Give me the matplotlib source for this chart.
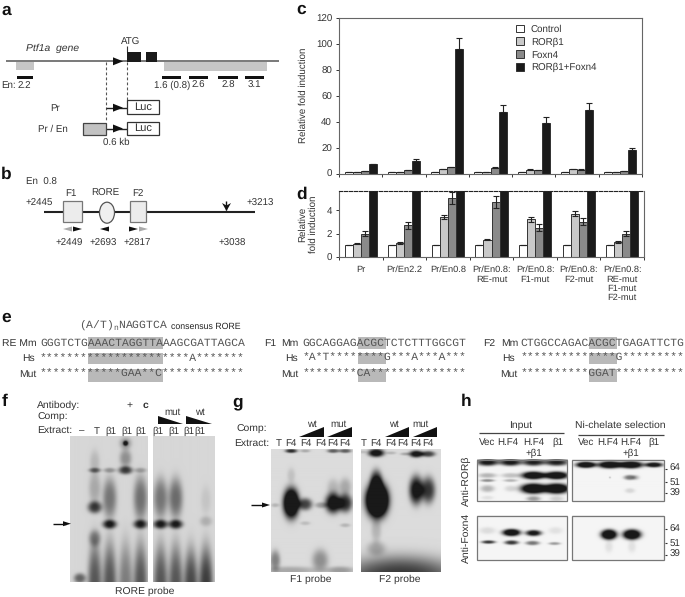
import numpy as np
import matplotlib
matplotlib.use('Agg')
import matplotlib.pyplot as plt
from matplotlib.patches import Rectangle, Ellipse, Polygon

plt.rcParams['font.family'] = ['Liberation Sans', 'DejaVu Sans']
plt.rcParams['mathtext.default'] = 'regular'
plt.rcParams['text.hinting'] = 'no_hinting'

# bar data, panels c and d
constructs = ['Pr', 'Pr/En2.2', 'Pr/En0.8', 'Pr/En0.8:\nRE-mut', 'Pr/En0.8:\nF1-mut',
              'Pr/En0.8:\nF2-mut', 'Pr/En0.8:\nRE-mut\nF1-mut\nF2-mut']
series_names = ['Control', 'RORβ1', 'Foxn4', 'RORβ1+Foxn4']
control = [1, 1, 1, 1, 1, 1, 1]
ror = [1.15, 1.2, 3.4, 1.5, 3.2, 3.7, 1.3]
foxn = [2.0, 2.7, 5.0, 4.7, 2.5, 3.0, 2.0]
both = [7.3, 10, 96, 48, 39.5, 49.5, 18]
control_err = [0, 0, 0, 0, 0, 0, 0]
ror_err = [0.05, 0.07, 0.2, 0.06, 0.2, 0.25, 0.06]
foxn_err = [0.22, 0.3, 0.5, 0.5, 0.3, 0.3, 0.22]
both_err = [0.4, 1.0, 9, 5, 4.5, 5, 2]
bar_colors = ['white', '#c9c9c9', '#8a8a8a', '#1a1a1a']

# sequence rows, panel e
re_rows = ['GGGTCTGAAACTAGGTTAAAGCGATTAGCA', '**********************A*******', '************GAA**C************']
f1_rows = ['GGCAGGAGACGCTCTCTTTGGCGT', '*A*T********G***A***A***', '********CA**************']
f2_rows = ['CTGGCCAGACACGCTGAGATTCTG', '**************G*********', '**********GGAT**********']

# gel and blot bands: x, y, width, height, darkness (in picture pixels)
gel_f1_bands = [(80, 578, 6, 5, 0.45), (95, 470, 6, 2.5, 0.4), (95, 507, 7, 6, 0.6), (95, 488, 6, 16, 0.18),
                (95, 538, 6, 8, 0.3), (95, 462, 5, 12, 0.12),
                (110, 470, 6, 2.5, 0.25), (110, 524, 7, 4.5, 0.7), (110, 498, 7, 20, 0.38),
                (126, 470, 7, 4, 0.6), (126, 458, 6, 9, 0.28), (126, 443, 2.5, 2.5, 0.7), (126, 443, 6, 6, 0.25),
                (141, 470, 6, 2.5, 0.2), (141, 524, 7, 4.5, 0.65), (141, 498, 7, 22, 0.4),
                (95, 585, 7, 42, 0.5), (110, 585, 7, 42, 0.5), (126, 585, 7, 42, 0.35), (141, 585, 7, 42, 0.5)]
gel_f2_bands = [(160, 524, 7, 4.5, 0.7), (160, 498, 7, 20, 0.38), (175, 524, 7, 4.5, 0.7), (175, 498, 7, 20, 0.42),
                (205, 521, 6, 5, 0.15), (205, 500, 5, 14, 0.07),
                (160, 585, 7, 40, 0.5), (175, 585, 7, 40, 0.5), (190, 585, 7, 36, 0.55), (205, 585, 7, 38, 0.6)]
gel_g1_bands = [(291, 451, 6, 2, 0.7), (305, 451, 5, 1.5, 0.2), (333, 451, 6, 2, 0.5), (345, 451, 6, 2, 0.5),
                (291, 503, 8, 15, 1.3), (291, 475, 4, 7, 0.1), (305, 504, 7, 6, 0.6), (321, 505, 6, 3, 0.25),
                (333, 503, 8, 10, 0.9), (345, 503, 7, 9, 0.7), (333, 488, 6, 9, 0.15),
                (345, 487, 6, 9, 0.2), (275, 505, 4, 2, 0.15),
                (305, 523, 5, 2, 0.12), (345, 525, 5, 2, 0.15), (275, 560, 5, 10, 0.35), (320, 560, 8, 11, 0.3),
                (290, 570, 28, 4, 0.2), (340, 570, 14, 4, 0.25)]
gel_g2_bands = [(376, 453, 8, 4, 0.9), (391, 453, 5, 1.5, 0.15), (405, 454, 5, 1.5, 0.2), (416, 454, 7, 3.5, 0.85),
                (428, 454, 7, 3, 0.6), (377, 500, 11, 17, 1.8), (376, 482, 6, 12, 0.7), (376, 530, 5, 12, 0.15),
                (416, 490, 7, 14, 0.85), (428, 490, 7, 13, 0.65), (362, 452, 4, 1.5, 0.12),
                (400, 578, 60, 22, 0.65), (376, 548, 9, 7, 0.2)]
blot_tl_bands = [(487, 463, 11, 3.5, 0.9), (510, 463, 11, 3.5, 0.9), (533, 463, 11, 3.5, 0.85), (556, 463, 12, 3.5, 0.85),
                 (487, 476, 9, 2.5, 0.25), (510, 476, 9, 2.5, 0.2), (487, 481, 7, 1.5, 0.4), (510, 481, 7, 1.5, 0.25),
                 (487, 489, 7, 3.5, 0.25), (510, 489, 6, 3, 0.12),
                 (533, 476, 12, 3.8, 1.2), (556, 476, 12, 3.8, 1.2), (533, 489, 13, 5, 1.3), (556, 489, 13, 5, 1.3),
                 (533, 499, 7, 2.5, 0.35), (556, 499, 7, 2.5, 0.15), (487, 498, 6, 2, 0.08)]
blot_tr_bands = [(586, 465.5, 10, 3, 1.2), (610, 465.5, 12, 3.5, 1.2), (631, 465.5, 12, 3.5, 1.2), (654, 465.5, 9, 2.5, 1.0),
                 (630, 478, 6, 2.5, 0.5), (636, 478, 4, 2.5, 0.15), (630, 491, 5, 2.5, 0.12), (610, 478, 1, 1, 0.2)]
blot_bl_bands = [(511, 533, 9, 3.5, 1.2), (533, 533.5, 8, 3, 0.95), (487, 531, 8, 3.5, 0.1), (555, 531, 7, 3.5, 0.08),
                 (488, 542.5, 7, 1.7, 0.75), (511, 543, 7, 2.2, 0.75), (532, 543.5, 7, 2.2, 0.5), (554, 544, 6, 1.5, 0.35)]
blot_br_bands = [(609, 535, 8, 5, 1.3), (632, 535, 9, 5, 1.3), (609, 547, 4, 6, 0.08), (632, 547, 4, 6, 0.08)]

fig = plt.figure(figsize=(6.85, 5.97), dpi=100)
W, H = 685, 597
pg = fig.add_axes([0, 0, 1, 1])
pg.set_xlim(0, W)
pg.set_ylim(H, 0)
pg.axis('off')
TXT = '#333333'


def T(x, y, s, ha='center', size=7, color=TXT, **kw):
  pg.text(x, y, s, ha=ha, va='center', fontsize=size, color=color, **kw)


def line(xs, ys, c='#222222', lw=1.0, **kw):
  pg.plot(xs, ys, color=c, lw=lw, solid_capstyle='butt', **kw)


def box(x0, y0, x1, y1, fc, ec='none', lw=0.9, z=3):
  pg.add_patch(Rectangle((x0, y0), x1 - x0, y1 - y0, fc=fc, ec=ec, lw=lw, zorder=z))


def tri(pts, c='#111111', z=4):
  pg.add_patch(Polygon(pts, closed=True, fc=c, ec='none', zorder=z))


def arrow_r(x0, x1, y, h=3, c='#111111'):
  tri([(x0, y - h), (x1, y), (x0, y + h)], c)


def arrow_l(x0, x1, y, h=3, c='#111111'):
  tri([(x1, y - h), (x0, y), (x1, y + h)], c)


def gel(x0, y0, x1, y1, bands, bg=0.86, edge=None):
  xx, yy = np.meshgrid(np.arange(x0, x1, 0.5), np.arange(y0, y1, 0.5))
  img = np.full(xx.shape, bg)
  for bx, by, sx, sy, dark in bands:
    r2 = ((xx - bx) / sx) ** 2 + ((yy - by) / sy) ** 2
    img -= dark * np.exp(-r2 ** 1.5)
  pg.imshow(np.clip(img, 0.1, 1), cmap='gray', vmin=0, vmax=1, extent=(x0, x1, y1, y0),
            aspect='auto', interpolation='bilinear', zorder=2)
  if edge:
    box(x0, y0, x1, y1, 'none', edge, 0.9, 3)


# panel letters
for s, x, y in [('a', 6, 10), ('b', 6, 174), ('c', 301, 9), ('d', 302, 194), ('e', 6, 317),
                ('f', 5, 402), ('g', 238, 402), ('h', 466, 402)]:
  T(x, y, s, size=12.5, color='#111111', fontweight='bold')

# a: gene diagram
T(26, 48, 'Ptf1a  gene', ha='left', size=7.5, style='italic')
T(131, 42, 'ATG')
line([6, 279], [61.3, 61.3], '#555555', 1.1)
box(16, 62, 34, 69.7, '#c6c6c6')
box(164, 62, 267, 71, '#c6c6c6')
box(127, 52, 141, 61.5, '#1a1a1a')
box(146, 52, 157, 61.5, '#1a1a1a')
line([127, 127], [46, 52], '#333333', 0.8)
arrow_r(113, 123, 61.3, 4)
for x0, x1 in [(17, 33), (162, 181), (189, 208), (218, 238), (245, 264)]:
  box(x0, 76.3, x1, 79, '#111111')
T(1, 85, 'En:', ha='left')
for x, s in [(24, 2.2), (198, 2.6), (228, 2.8), (254, 3.1)]:
  T(x, 85.5, str(s))
T(172, 85.5, '1.6 (0.8)')
line([106, 106], [62, 121], '#555555', 0.8, ls=(0, (2.5, 2)))
line([127, 127], [62, 100], '#555555', 0.8, ls=(0, (2.5, 2)))
T(55, 108, 'Pr')
line([106, 127], [107.7, 107.7], '#222222', 1.0)
arrow_r(113, 123, 107.7, 4)
box(127, 100, 159, 113.7, 'white', '#333333')
T(143, 107, 'Luc', size=8)
T(53, 129, 'Pr / En')
box(83, 123, 106, 134.7, '#c2c2c2', '#444444')
line([106, 127], [128.5, 128.5], '#222222', 1.0)
arrow_r(113, 123, 128.5, 4)
box(127, 121.5, 159, 134.7, 'white', '#333333')
T(143, 128, 'Luc', size=8)
T(116, 142.5, '0.6 kb')

# b: enhancer diagram
T(26, 182, 'En  0.8', ha='left')
T(71, 193, 'F1')
T(105, 193, 'RORE')
T(138, 193, 'F2')
T(39, 203, '+2445')
T(260, 203, '+3213')
line([44, 255], [211.5, 211.5], '#222222', 1.5)
box(63, 201, 82, 222, '#ececec', '#777777')
box(130, 201, 146, 222, '#ececec', '#777777')
pg.add_patch(Ellipse((107, 212.7), 15, 21, fc='#f0f0f0', ec='#555555', lw=0.9, zorder=3))
line([226.5, 226.5], [201, 210], '#111111', 1.0)
tri([(222, 203), (226.5, 205.5), (231, 203), (226.5, 211)])
arrow_l(63, 72, 229, 2.5, '#aaaaaa')
arrow_r(73, 82, 229, 2.5)
arrow_l(100, 109, 229, 2.5)
arrow_r(129, 138, 229, 2.5)
arrow_r(139, 148, 229, 2.5, '#aaaaaa')
for x, s in [(69, '+2449'), (103, '+2693'), (137, '+2817'), (232, '+3038')]:
  T(x, 243, s)

# c: full scale bars
ax_c = fig.add_axes([339 / W, 1 - 173.7 / H, 303 / W, 155.4 / H])
ax_d = fig.add_axes([339 / W, 1 - 257.3 / H, 305 / W, 66.6 / H])
series = [control, ror, foxn, both]
errs = [control_err, ror_err, foxn_err, both_err]
centers = np.arange(7) + 0.5
bw = 0.185
handles = []
for ax in (ax_c, ax_d):
  ax.patch.set_alpha(0)
  for i, (vals, err, col) in enumerate(zip(series, errs, bar_colors)):
    e = [np.zeros(7), err] if ax is ax_c else err
    b = ax.bar(centers + (i - 1.5) * bw, vals, bw, color=col, edgecolor='#333333', linewidth=0.7,
               yerr=e, ecolor='#222222', error_kw={'capsize': 2, 'elinewidth': 0.8, 'capthick': 0.8})
    if ax is ax_c:
      handles.append(b)
  ax.set_xlim(0, 7)
  ax.set_xticks(np.arange(8))
  ax.set_xticklabels([])
  ax.tick_params(axis='both', length=2.5, width=0.7, color='#333333', labelsize=7, labelcolor=TXT, pad=2.5)
  ax.tick_params(axis='x', length=2.5)
  for side in ax.spines:
    ax.spines[side].set_linewidth(0.8)
    ax.spines[side].set_color('#666666')
ax_c.set_ylim(0, 120)
ax_c.set_yticks(range(0, 121, 20))
ax_d.set_ylim(0, 5.63)
ax_d.set_yticks([0, 2, 4])
ax_d.spines['top'].set_linestyle((0, (3, 1.5)))
ax_d.spines['top'].set_color('#222222')
ax_d.set_xticks(centers, minor=True)
ax_d.set_xticklabels(constructs, minor=True, fontsize=6.7, color=TXT, linespacing=1.15)
ax_d.tick_params(axis='x', which='minor', length=0, pad=6)
leg = ax_c.legend([h[0] for h in handles], series_names, loc='upper left', bbox_to_anchor=(0.585, 0.96),
                  frameon=False, fontsize=7, handlelength=0.8, handleheight=0.8, handletextpad=0.7,
                  labelspacing=0.36, borderpad=0, borderaxespad=0, labelcolor=TXT)
T(303, 95, 'Relative fold induction', rotation=90)
T(303, 224, 'Relative', rotation=90)
T(313.5, 224, 'fold induction', rotation=90)

# e: sequences
def seq(x, y, s):
  T(x, y, s, ha='left', size=8.2, color='#555555', family='Liberation Mono')


for y0, y1 in [(337, 348.5), (352.7, 364), (369, 382)]:
  box(88, y0, 163, y1, '#b9b9b9', z=1)
  box(358, y0, 386, y1, '#b9b9b9', z=1)
  box(589, y0, 617, y1, '#b9b9b9', z=1)
T(79, 326, '(A/T)$_{n}$NAGGTCA', ha='left', size=8.2, color='#555555', family='Liberation Mono')
T(171, 327, 'consensus RORE', ha='left', size=6.3, color='#222222')
T(2, 343, 'RE Mm', ha='left', size=7.5)
T(35, 358, 'Hs', ha='right', size=7.5)
T(36, 374, 'Mut', ha='right', size=7.5)
T(264, 343, 'F1', ha='left', size=7.5)
T(281, 343, 'Mm', ha='left', size=7.5)
T(298, 358, 'Hs', ha='right', size=7.5)
T(298, 374, 'Mut', ha='right', size=7.5)
T(483, 343, 'F2', ha='left', size=7.5)
T(501, 343, 'Mm', ha='left', size=7.5)
T(515, 358, 'Hs', ha='right', size=7.5)
T(517, 374, 'Mut', ha='right', size=7.5)
for y, a, b, c in zip([343, 358, 374], re_rows, f1_rows, f2_rows):
  seq(40, y, a)
  seq(302.7, y, b)
  seq(520.3, y, c)

# f: RORE gel
T(37, 405.7, 'Antibody:', ha='left', size=7.5)
T(37, 417.7, 'Comp:', ha='left', size=7.5)
T(37, 430, 'Extract:', ha='left', size=7.5)
T(130, 405, '+', size=7.5)
T(145, 405, 'c', size=7.5, fontweight='bold')
T(172, 412, 'mut')
T(200, 412, 'wt')
tri([(157.7, 415.7), (157.7, 424), (182.7, 424)])
tri([(186, 415.7), (186, 424), (211.7, 424)])
for x, s in [(82, '–'), (97, 'T'), (111, 'β1'), (127, 'β1'), (141, 'β1'), (158, 'β1'), (174, 'β1'), (189, 'β1'), (200, 'β1')]:
  T(x, 431, s)
gel(70.3, 436, 148.3, 581.7, gel_f1_bands, 0.84)
gel(152.7, 436, 214, 581.7, gel_f2_bands, 0.84)
line([53, 66], [523.7, 523.7], '#111111', 1.0)
arrow_r(63, 71, 523.7, 2.5)
T(145, 591.7, 'RORE probe', size=7.5)

# g: F1 and F2 gels
T(236, 429, 'Comp:', ha='left', size=7.5)
T(234, 443, 'Extract:', ha='left', size=7.5)
for x, s in [(312, 'wt'), (338, 'mut'), (394, 'wt'), (420, 'mut')]:
  T(x, 424, s)
for x0, x1 in [(299, 324.3), (327, 352), (385, 409), (412.7, 437)]:
  tri([(x0, 436.7), (x1, 436.7), (x1, 427.3)])
for x, s in [(278.7, 'T'), (291, 'F4'), (305.7, 'F4'), (320.7, 'F4'), (332.7, 'F4'), (345, 'F4'),
             (363.7, 'T'), (376, 'F4'), (390.7, 'F4'), (403, 'F4'), (415.7, 'F4'), (428, 'F4')]:
  T(x, 443.6, s)
gel(271, 449.3, 353, 571.7, gel_g1_bands, 0.86)
gel(361, 449.3, 441, 571.7, gel_g2_bands, 0.86)
line([251, 265], [505, 505], '#111111', 1.0)
arrow_r(262, 270, 505, 2.5)
T(310.7, 579.3, 'F1 probe', size=7.5)
T(400, 579.3, 'F2 probe', size=7.5)

# h: western blots
T(521, 425, 'Input', size=7.5)
line([479, 563.7], [433.3, 433.3], '#444444', 0.9)
T(620.7, 425, 'Ni-chelate selection', size=7.5)
line([577.7, 664], [434.7, 434.7], '#444444', 0.9)
for x, s in [(486.7, 'Vec'), (508, 'H.F4'), (534, 'H.F4'), (557.7, 'β1'),
             (586, 'Vec'), (607.7, 'H.F4'), (631, 'H.F4'), (654, 'β1')]:
  T(x, 442, s)
T(534, 453, '+β1')
T(631, 453, '+β1')
gel(476.7, 460, 567.3, 501.3, blot_tl_bands, 0.96, '#777777')
gel(572.3, 460, 664.3, 501.3, blot_tr_bands, 0.96, '#777777')
gel(476.7, 515.7, 567.3, 560.3, blot_bl_bands, 0.96, '#777777')
gel(572.3, 515.7, 664.3, 560.3, blot_br_bands, 0.96, '#777777')
for y, s in [(468.7, '64'), (482.3, '51'), (493.3, '39'), (529, '64'), (543, '51'), (554.7, '39')]:
  line([665.5, 667.5], [y, y], '#333333', 0.8)
  T(675, y, s)
T(466.7, 481, 'Anti-RORβ', rotation=90, size=7.5)
T(466.7, 538, 'Anti-Foxn4', rotation=90, size=7.5)

pg.set_xlim(0, W)
pg.set_ylim(H, 0)
fig.savefig('out.png', dpi=100)
